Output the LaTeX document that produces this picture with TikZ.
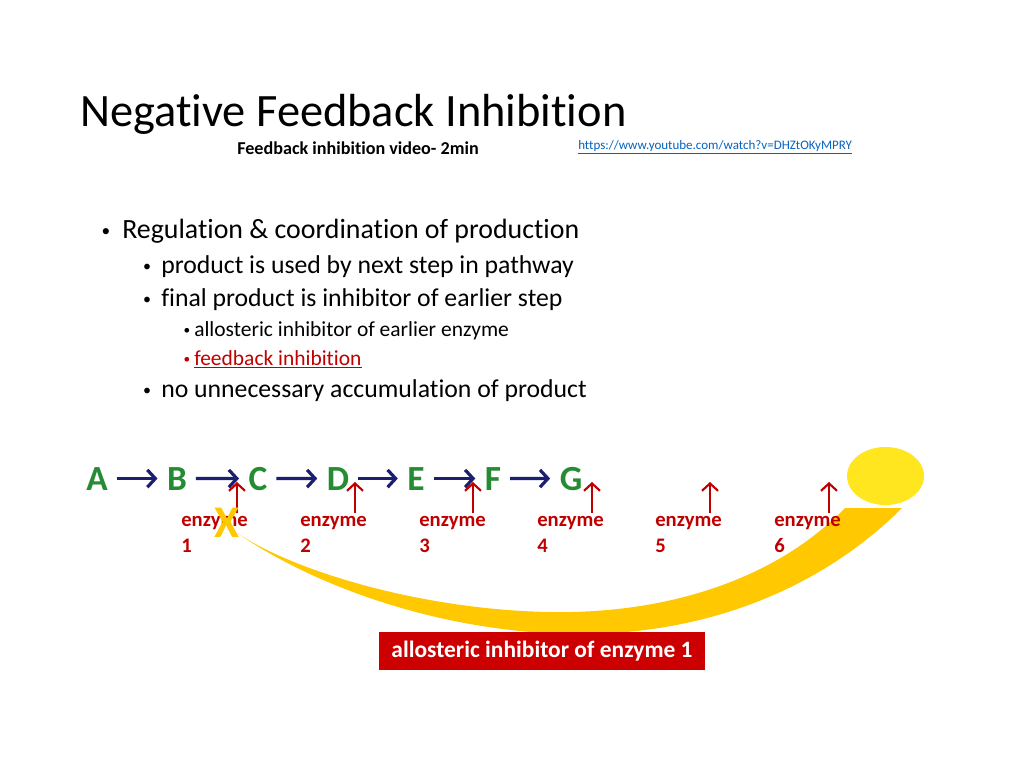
\documentclass[tikz,border=0pt]{standalone}
\usepackage{fontspec}
\setmainfont{Carlito}[Ligatures=NoCommon]
\usetikzlibrary{arrows.meta,positioning}
\definecolor{pathgreen}{RGB}{38,140,52}
\definecolor{pathnavy}{RGB}{28,30,112}
\definecolor{enzred}{RGB}{192,0,0}
\definecolor{boxred}{RGB}{204,0,0}
\definecolor{swoosh}{RGB}{255,200,0}
\definecolor{sun}{RGB}{255,230,30}
\definecolor{linkblue}{RGB}{5,99,193}
\tikzset{
  >={Straight Barb[length=6pt,width=13pt]},
  title/.style={font=\fontsize{34.8}{42}\selectfont, anchor=base west, inner sep=0pt},
  subtitle/.style={font=\fontsize{13.6}{16}\bfseries\selectfont, anchor=base, inner sep=0pt},
  urltext/.style={font=\fontsize{9.75}{12}\selectfont, text=linkblue, anchor=base west, inner sep=0pt},
  lvlone/.style={font=\fontsize{20.9}{24}\selectfont, anchor=base west, inner sep=0pt},
  lvltwo/.style={font=\fontsize{19.3}{23}\selectfont, anchor=base west, inner sep=0pt},
  lvlthree/.style={font=\fontsize{16.1}{19}\selectfont, anchor=base west, inner sep=0pt},
  dot/.style={anchor=base, inner sep=0pt},
  letter/.style={font=\fontsize{26.5}{30}\bfseries\selectfont, text=pathgreen,
    anchor=base, inner sep=0pt},
  react/.style={draw=pathnavy, line width=2.4pt, ->, shorten <=6.5pt, shorten >=7pt},
  enzarrow/.style={draw=enzred, line width=1.6pt, -{Straight Barb[length=5.5pt,width=12pt]}},
  enzlabel/.style={font=\fontsize{15.5}{19.5}\bfseries\selectfont, text=enzred,
    align=left, anchor=north west, inner sep=0pt},
  blocker/.style={font=\fontsize{34}{36}\bfseries\selectfont, text=swoosh, inner sep=0pt},
  inhibbox/.style={fill=boxred, text=white, font=\fontsize{17.6}{20}\bfseries\selectfont,
    minimum width=244.5pt, minimum height=28.5pt, inner sep=0pt},
}
\begin{document}
\begin{tikzpicture}[x=0.75pt,y=-0.75pt]

	\fill[white] (0,0) rectangle (1024,767);
	\useasboundingbox (0,0) rectangle (1024,767);

	% heading
	\node[title] (head) at (80,127) {Negative Feedback Inhibition};
	\node[subtitle] (video) at (358,154) {Feedback inhibition video- 2min};
	\node[urltext] (link) at (578,149) {\underline{https://www.youtube.com/watch?v=DHZtOKyMPRY}};

	% bullet list
	\node[dot, font=\fontsize{13}{15}\selectfont] (bul1) at (106,236) {•};
	\node[lvlone] (reg) at (122,238) {Regulation \& coordination of production};
	\node[dot, font=\fontsize{12}{14}\selectfont] (bul2) at (147,271) {•};
	\node[lvltwo] (used) at (161,273) {product is used by next step in pathway};
	\node[dot, font=\fontsize{12}{14}\selectfont] (bul3) at (147,304) {•};
	\node[lvltwo] (final) at (161,306) {final product is inhibitor of earlier step};
	\node[dot, font=\fontsize{10}{12}\selectfont] (bul4) at (187,334) {•};
	\node[lvlthree] (allo) at (194,336) {allosteric inhibitor of earlier enzyme};
	\node[dot, font=\fontsize{10}{12}\selectfont, text=enzred] (bul5) at (187,363) {•};
	\node[lvlthree, text=enzred] (fb) at (194,365) {\underline{feedback inhibition}};
	\node[dot, font=\fontsize{12}{14}\selectfont] (bul6) at (147,395) {•};
	\node[lvltwo] (accum) at (161,397) {no unnecessary accumulation of product};

	% feedback swoosh and product
	\fill[swoosh] (845,508) .. controls (780,575) and (680,610) .. (570,612)
		.. controls (440,614) and (300,575) .. (237,533)
		.. controls (320,590) and (450,634) .. (580,634)
		.. controls (720,634) and (830,580) .. (902,508) -- cycle;
	\fill[sun] (885.5,476) ellipse [x radius=38.5, y radius=29];

	% pathway
	\node[letter] (A) at (97,490) {A};
	\node[letter] (B) at (177,490) {B};
	\node[letter] (C) at (258,490) {C};
	\node[letter] (D) at (338,490) {D};
	\node[letter] (E) at (416,490) {E};
	\node[letter] (F) at (493,490) {F};
	\node[letter] (G) at (571,490) {G};
	\draw[react] (A.east) -- (B.west);
	\draw[react] (B.east) -- (C.west);
	\draw[react] (C.east) -- (D.west);
	\draw[react] (D.east) -- (E.west);
	\draw[react] (E.east) -- (F.west);
	\draw[react] (F.east) -- (G.west);

	% enzymes
	\node[enzlabel] (e1) at (181,516) {enzyme\\1};
	\node[enzlabel] (e2) at (300,516) {enzyme\\2};
	\node[enzlabel] (e3) at (419,516) {enzyme\\3};
	\node[enzlabel] (e4) at (537,516) {enzyme\\4};
	\node[enzlabel] (e5) at (655,516) {enzyme\\5};
	\node[enzlabel] (e6) at (774,516) {enzyme\\6};
	\coordinate (s1) at (237,513); \coordinate (t1) at (237,482);
	\coordinate (s2) at (355,513); \coordinate (t2) at (355,482);
	\coordinate (s3) at (473,513); \coordinate (t3) at (473,482);
	\coordinate (s4) at (592,513); \coordinate (t4) at (592,482);
	\coordinate (s5) at (710,513); \coordinate (t5) at (710,482);
	\coordinate (s6) at (829,513); \coordinate (t6) at (829,482);
	\draw[enzarrow] (s1) -- (t1);
	\draw[enzarrow] (s2) -- (t2);
	\draw[enzarrow] (s3) -- (t3);
	\draw[enzarrow] (s4) -- (t4);
	\draw[enzarrow] (s5) -- (t5);
	\draw[enzarrow] (s6) -- (t6);

	\node[blocker] (stop) at (227,523) {X};
	\node[inhibbox] (inhib) at (542,651) {allosteric inhibitor of enzyme 1};

\end{tikzpicture}
\end{document}
